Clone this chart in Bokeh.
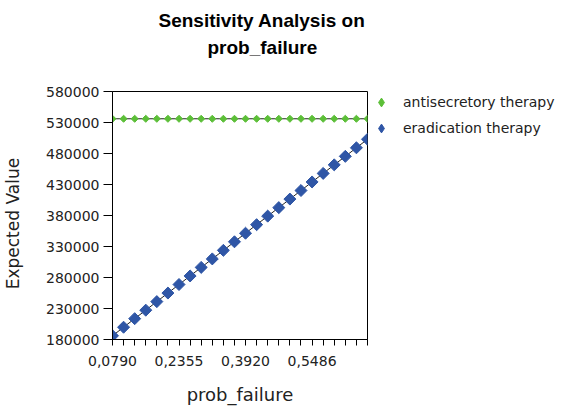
import math
from bokeh.plotting import figure
from bokeh.models import (ColumnDataSource, Range1d, FixedTicker, CustomJSTickFormatter,
                          BasicTickFormatter, Legend, LegendItem, Title)
from bokeh.embed import file_html
from bokeh.resources import INLINE

# ---- data ----
prob_failure = [0.0790, 0.1051, 0.1312, 0.1573, 0.1833, 0.2094, 0.2355, 0.2616,
                0.2877, 0.3138, 0.3399, 0.3660, 0.3920, 0.4181, 0.4442, 0.4703,
                0.4964, 0.5225, 0.5486, 0.5747, 0.6007, 0.6268, 0.6529, 0.6790]
antisecretory = [536000] * 24
eradication = [186000, 199800, 213600, 227300, 241100, 254900, 268700, 282500,
               296300, 310000, 323800, 337600, 351400, 365200, 379000, 392700,
               406500, 420300, 434100, 447900, 461700, 475400, 489200, 503000]
x_tick_values = [prob_failure[0], prob_failure[6], prob_failure[12], prob_failure[18]]
x_tick_labels = ["0,0790", "0,2355", "0,3920", "0,5486"]
y_ticks = [180000, 230000, 280000, 330000, 380000, 430000, 480000, 530000, 580000]
series_names = ["antisecretory therapy", "eradication therapy"]

GREEN = "#5cbf38"
BLUE = "#2f56a6"
TICK_FONT = "DejaVu Sans"

src = ColumnDataSource(dict(x=prob_failure, a=antisecretory, e=eradication))

p = figure(frame_width=255, frame_height=248, output_backend="svg", toolbar_location=None,
           x_range=Range1d(prob_failure[0], prob_failure[-1]),
           y_range=Range1d(y_ticks[0], y_ticks[-1]),
           min_border_left=111, min_border_right=184, min_border_top=91, min_border_bottom=50)
p.title = None
p.grid.visible = False
p.outline_line_color = "black"
p.outline_line_width = 1
p.background_fill_color = "white"
p.border_fill_color = "white"

# titles (two lines) above an empty spacer title
spacer = Title(text=" ", align="left", standoff=0, text_font="Liberation Sans",
               text_font_size="29px")
t2 = Title(text="prob_failure", align="left", offset=95, standoff=0,
           text_font="Liberation Sans", text_font_style="bold", text_font_size="19px",
           text_color="black")
t1 = Title(text="Sensitivity Analysis on", align="left", offset=46, standoff=7,
           text_font="Liberation Sans", text_font_style="bold", text_font_size="19px",
           text_color="black")
p.add_layout(spacer, "above")
p.add_layout(t2, "above")
p.add_layout(t1, "above")

# lines and markers
p.line("x", "a", source=src, line_color="#222222", line_width=1)
p.line("x", "e", source=src, line_color="#222222", line_width=1)
p.scatter("x", "a", source=src, marker="square", angle=math.pi / 4, size=5,
          fill_color=GREEN, line_color=GREEN)
p.scatter("x", "e", source=src, marker="square", angle=math.pi / 4, size=8.5,
          fill_color=BLUE, line_color=BLUE)

# legend proxies (diamond glyphs, no visible data)
lg_a = p.scatter([float("nan")], [float("nan")], marker="diamond",
                 fill_color=GREEN, line_color=GREEN)
lg_e = p.scatter([float("nan")], [float("nan")], marker="diamond",
                 fill_color=BLUE, line_color=BLUE)

leg = Legend(items=[LegendItem(label=series_names[0], renderers=[lg_a]),
                    LegendItem(label=series_names[1], renderers=[lg_e])],
             location="top_left", glyph_width=28, glyph_height=22, label_standoff=8,
             spacing=4, padding=0, margin=0, border_line_color=None, background_fill_alpha=0,
             label_text_font=TICK_FONT, label_text_font_size="14px", label_text_color="#222222")
p.add_layout(leg, "right")

# x axis
xa = p.xaxis[0]
xa.ticker = FixedTicker(ticks=x_tick_values,
                        minor_ticks=[v for v in prob_failure if v not in x_tick_values])
xa.formatter = CustomJSTickFormatter(args=dict(vals=x_tick_values, labs=x_tick_labels), code="""
    let best = 0, bd = 1e9;
    for (let i = 0; i < vals.length; i++) { const d = Math.abs(vals[i] - tick); if (d < bd) { bd = d; best = i; } }
    return labs[best];
""")
xa.axis_label = "prob_failure"
xa.axis_label_text_font = TICK_FONT
xa.axis_label_text_font_size = "18px"
xa.axis_label_text_font_style = "normal"
xa.axis_label_text_color = "#222222"
xa.axis_label_standoff = 15
xa.major_label_text_font = TICK_FONT
xa.major_label_text_font_size = "14px"
xa.major_label_text_color = "#222222"
xa.major_label_standoff = 10
xa.major_tick_out = 6
xa.major_tick_in = 0
xa.minor_tick_out = 6
xa.minor_tick_in = 0
xa.axis_line_color = "black"
xa.major_tick_line_color = "black"
xa.minor_tick_line_color = "black"

# y axis
ya = p.yaxis[0]
ya.ticker = FixedTicker(ticks=y_ticks, minor_ticks=[])
ya.formatter = BasicTickFormatter(use_scientific=False)
ya.axis_label = "Expected Value\u00a0\u00a0\u00a0"
ya.axis_label_text_font = TICK_FONT
ya.axis_label_text_font_size = "17px"
ya.axis_label_text_font_style = "normal"
ya.axis_label_text_color = "#222222"
ya.axis_label_standoff = 20
ya.major_label_text_font = TICK_FONT
ya.major_label_text_font_size = "14px"
ya.major_label_text_color = "#222222"
ya.major_label_standoff = 4
ya.major_tick_out = 9
ya.major_tick_in = 0
ya.minor_tick_out = 0
ya.minor_tick_in = 0
ya.axis_line_color = "black"
ya.major_tick_line_color = "black"

open("out.html", "w").write(file_html(p, INLINE))
